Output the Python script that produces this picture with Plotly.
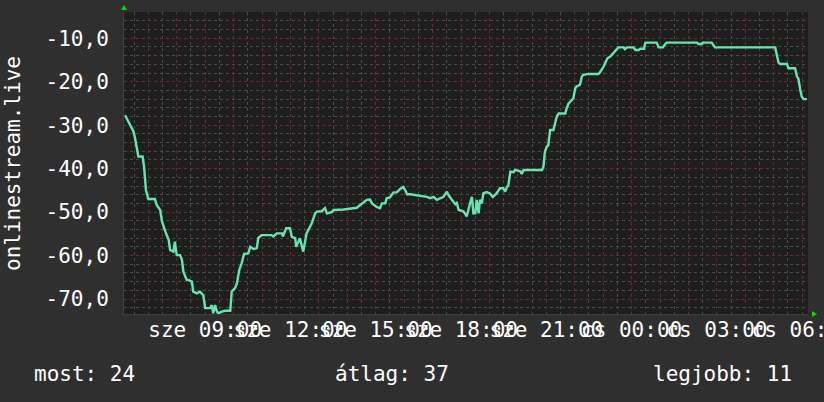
import plotly.graph_objects as go

# ---- data ----
times = ["06:11","06:22","06:29","06:32","06:36","06:39","06:48","06:51","06:55","07:00",
         "07:14","07:18","07:25","07:29","07:36","07:43","07:46","07:53","07:56","08:00",
         "08:07","08:11","08:14","08:21","08:24","08:32","08:35","08:42","08:49","08:56",
         "09:00","09:10","09:14","09:17","09:21","09:25","09:28","09:35","09:42","09:53",
         "09:56","10:03","10:07","10:12","10:17","10:22","10:31","10:35","10:42","10:49",
         "10:52","10:59","11:20","11:24","11:31","11:42","11:44","11:51","11:59","12:03",
         "12:10","12:12","12:20","12:27","12:34","12:45","12:52","12:56","13:06","13:13",
         "13:17","13:27","13:31","13:52","14:20","14:27","14:41","14:48","14:52","15:02",
         "15:09","15:13","15:20","15:23","15:30","15:37","15:45","15:51","15:58","16:04",
         "16:06","16:13","16:48","16:55","17:02","17:09","17:16","17:23","17:30","17:34",
         "17:41","17:48","17:51","17:55","18:05","18:12","18:19","18:23","18:26","18:30",
         "18:33","18:37","18:40","18:44","18:47","18:54","19:01","19:07","19:15","19:22",
         "19:29","19:33","19:37","19:40","19:44","19:51","19:54","20:05","20:08","20:12",
         "20:51","20:54","20:57","21:01","21:04","21:08","21:15","21:19","21:22","21:26",
         "21:40","21:43","21:47","21:54","21:57","22:01","22:04","22:11","22:15","22:18",
         "22:29","22:50","22:54","23:01","23:04","23:09","23:15","23:22","23:29","23:32",
         "23:43","23:46","23:50","00:04","00:08","00:15","00:18","00:26","00:29","00:53",
         "00:57","01:06","01:11","01:14","02:18","02:21","02:29","02:30","02:49","02:56",
         "05:03","05:06","05:10","05:14","05:28","05:31","05:45","05:49","05:52","05:56",
         "05:59","06:03","06:10"]
values = [-27.7,-30.0,-31.5,-33.0,-35.7,-37.2,-37.2,-39.5,-44.9,-47.0,
          -47.0,-48.4,-49.5,-52.2,-54.5,-56.4,-58.7,-59.1,-56.8,-59.9,
          -59.9,-61.0,-63.7,-65.6,-65.6,-66.0,-68.3,-68.7,-68.3,-69.1,
          -72.1,-72.1,-71.4,-73.3,-71.4,-72.9,-73.3,-72.9,-72.7,-72.7,
          -68.3,-67.5,-66.4,-63.3,-61.8,-59.6,-59.5,-58.0,-58.5,-58.3,
          -56.0,-55.3,-55.3,-55.6,-54.9,-54.9,-55.6,-53.7,-53.7,-55.7,
          -56.0,-58.0,-56.0,-59.1,-54.9,-52.6,-50.3,-49.9,-49.8,-49.1,
          -50.3,-50.0,-49.5,-49.4,-49.0,-48.4,-47.2,-47.1,-48.0,-48.8,
          -49.1,-48.0,-48.0,-46.8,-46.6,-45.5,-45.4,-44.7,-44.2,-45.3,
          -45.9,-45.9,-46.5,-46.8,-46.5,-47.2,-46.8,-46.5,-45.3,-46.2,
          -47.2,-48.2,-47.9,-49.5,-49.8,-51.0,-48.0,-46.5,-50.3,-50.3,
          -47.2,-50.3,-47.2,-48.0,-45.7,-45.4,-45.7,-46.5,-45.7,-44.5,
          -44.5,-45.3,-44.2,-43.8,-40.7,-40.8,-40.3,-40.6,-41.2,-40.3,
          -40.3,-39.5,-36.1,-34.9,-34.7,-31.1,-31.1,-28.8,-28.0,-27.3,
          -27.3,-26.1,-25.0,-24.2,-23.8,-21.5,-21.1,-20.7,-18.8,-18.4,
          -18.2,-18.2,-17.7,-16.5,-15.6,-14.6,-14.2,-13.3,-12.5,-12.1,
          -12.1,-12.5,-12.1,-12.1,-12.7,-12.7,-12.4,-12.4,-11.0,-11.0,
          -12.1,-12.1,-11.3,-11.0,-11.0,-11.3,-11.3,-11.0,-11.0,-12.1,
          -12.1,-13.5,-15.6,-15.9,-15.9,-16.9,-16.9,-18.8,-19.3,-21.9,
          -23.4,-24.0,-24.0]

x_tick_hours = [9, 12, 15, 18, 21, 24, 27, 30]
x_tick_labels = ["sze 09:00", "sze 12:00", "sze 15:00", "sze 18:00",
                 "sze 21:00", "cs 00:00", "cs 03:00", "cs 06:00"]
y_tick_vals = [-70, -60, -50, -40, -30, -20, -10]
y_tick_labels = ["-70,0", "-60,0", "-50,0", "-40,0", "-30,0", "-20,0", "-10,0"]
series_name = "onlinestream.live"
stats = ["most: 24", "átlag: 37", "legjobb: 11"]

# convert HH:MM to hours since Wednesday 00:00
hours = []
offset = 0
prev = None
for t in times:
    hh, mm = t.split(":")
    h = int(hh) + int(mm) / 60
    if prev is not None and h + offset < prev:
        offset += 24
    hours.append(h + offset)
    prev = hours[-1]

# ---- layout geometry ----
W, H = 824, 402
L, R, T, B = 124, 808, 12, 314
FONT = "DejaVu Sans Mono"

def px_x(p):
    return (p - L) / (R - L)

def px_y(p):
    return (B - p) / (B - T)

major_vals = list(range(7, 31))
major_text = [x_tick_labels[x_tick_hours.index(h)] if h in x_tick_hours else "" for h in major_vals]

fig = go.Figure()
fig.add_trace(go.Scatter(x=hours, y=values, mode="lines",
                         line=dict(color="#66e6ae", width=2.4),
                         hoverinfo="skip", showlegend=False))

grid_major = "#6a2c2c"
grid_minor = "#4a4a4a"

fig.update_layout(
    width=W, height=H,
    margin=dict(l=L, r=W - R, t=T, b=H - B, pad=0, autoexpand=False),
    paper_bgcolor="#2f2f2f",
    plot_bgcolor="#1e1e1e",
    font=dict(family=FONT, size=21, color="#ffffff"),
    showlegend=False,
    xaxis=dict(
        range=[6.145, 6.145 + (R - L) / 28.43],
        tickmode="array", tickvals=major_vals, ticktext=major_text,
        tickangle=0, ticklabeloverflow="allow", automargin=False,
        showgrid=True, gridcolor=grid_major, griddash="dot", gridwidth=1,
        minor=dict(dtick=0.5, tick0=0, showgrid=True, gridcolor=grid_minor,
                   griddash="dot", gridwidth=1),
        zeroline=False, showline=True, linecolor="#3e3e3e", linewidth=1,
        ticks="", ticklabelstandoff=-3,
        tickfont=dict(family=FONT, size=21, color="#ffffff"),
        fixedrange=True,
    ),
    yaxis=dict(
        range=[-10 - (B - 38.3) / 4.345, -10 + (38.3 - T) / 4.345],
        tickmode="array", tickvals=y_tick_vals, ticktext=y_tick_labels,
        automargin=False,
        showgrid=True, gridcolor=grid_major, griddash="dot", gridwidth=1,
        minor=dict(dtick=2, tick0=0, showgrid=True, gridcolor=grid_minor,
                   griddash="dot", gridwidth=1),
        zeroline=False, showline=True, linecolor="#3e3e3e", linewidth=1,
        ticks="", ticklabelstandoff=10,
        tickfont=dict(family=FONT, size=21, color="#ffffff"),
        fixedrange=True,
    ),
)

annotations = [
    dict(text=series_name, textangle=-90, x=px_x(13), y=px_y(164),
         xref="paper", yref="paper", xanchor="center", yanchor="middle",
         showarrow=False, font=dict(family=FONT, size=21, color="#ffffff")),
]
for txt, left in zip(stats, [32, 333, 651]):
    annotations.append(dict(text=txt, x=px_x(left), y=px_y(374),
                            xref="paper", yref="paper", xanchor="left", yanchor="middle",
                            showarrow=False,
                            font=dict(family=FONT, size=21, color="#ffffff")))
fig.update_layout(annotations=annotations)

fig.add_shape(type="path", xref="paper", yref="paper",
              xsizemode="pixel", ysizemode="pixel", xanchor=0, yanchor=1,
              path="M -3,2 L 3,2 L 0,7 Z", fillcolor="#00dd00", line=dict(width=0))
fig.add_shape(type="path", xref="paper", yref="paper",
              xsizemode="pixel", ysizemode="pixel", xanchor=1, yanchor=0,
              path="M 4,3 L 4,-3 L 9,0 Z", fillcolor="#00dd00", line=dict(width=0))

fig.write_html("out.html",
               config={"displayModeBar": False},
               post_script="document.body.style.margin='0';document.body.style.background='#2f2f2f';")
